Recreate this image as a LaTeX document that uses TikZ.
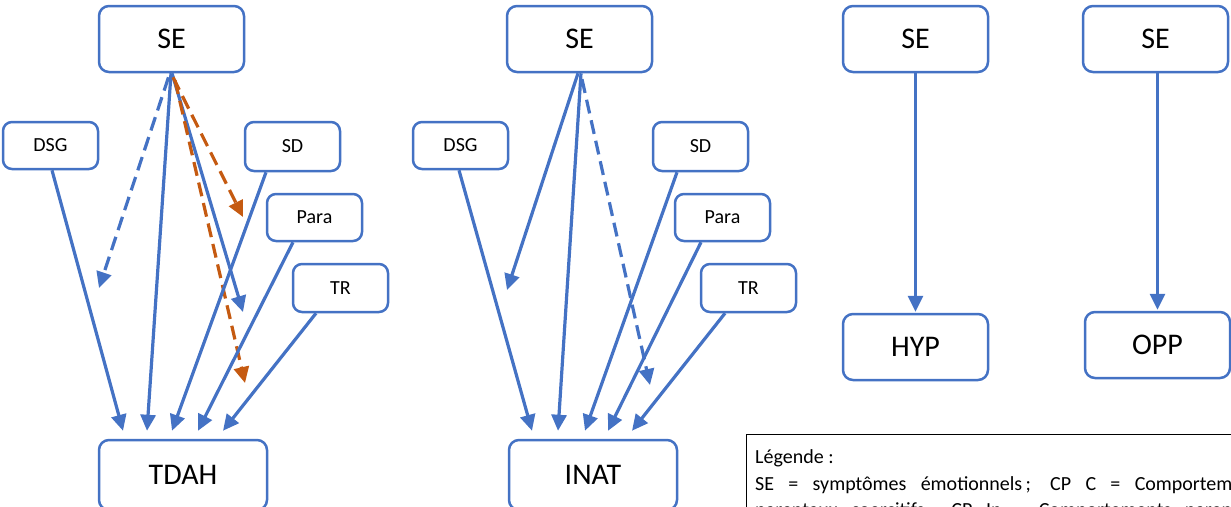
\documentclass[tikz,border=0pt]{standalone}
\usepackage{fontspec}
\setmainfont{Carlito}
\usetikzlibrary{arrows.meta,calc}
\definecolor{obl}{HTML}{4472C4}
\definecolor{oor}{HTML}{C55A11}
\tikzset{
 bigbox/.style={draw=obl, line width=2.5pt, rounded corners=10pt, minimum width=145pt, minimum height=66pt, inner sep=0pt, font=\fontsize{30}{36}\selectfont},
 smallbox/.style={draw=obl, line width=2.5pt, rounded corners=9pt, minimum width=95pt, minimum height=47pt, inner sep=0pt, font=\fontsize{20}{24}\selectfont},
 arr/.style={draw=obl, line width=3.2pt, -{Triangle[length=16pt,width=15pt]}},
 darr/.style={arr, dash pattern=on 14pt off 7pt},
 oarr/.style={arr, draw=oor, dash pattern=on 14pt off 7pt},
 legtext/.style={anchor=base west, inner sep=0pt, font=\fontsize{20}{26}\selectfont}
}
\begin{document}
\begin{tikzpicture}[x=1pt,y=-1pt]
\useasboundingbox (0,0) rectangle (1231,506);
\clip (0,0) rectangle (1231,506);
% left panel
\node[bigbox] (SE1) at (171.5,39) {SE};
\node[smallbox] (DSG1) at (50.5,145.5) {DSG};
\node[smallbox, minimum height=49pt] (SD1) at (292.5,146.5) {SD};
\node[smallbox] (Para1) at (314.5,217.5) {Para};
\node[smallbox, minimum height=48pt] (TR1) at (340.5,288) {TR};
\node[bigbox, minimum width=168pt, minimum height=70pt] (TDAH) at (183,475) {TDAH};
\coordinate (c1) at (243,312);
\coordinate (c2) at (99,288);
\coordinate (c3) at (243,217);
\coordinate (c4) at (245,383);
\draw[arr] ([xshift=1.5pt]DSG1.south) -- ([xshift=-60pt,yshift=8pt]TDAH.north);
\draw[arr] ([xshift=-0.5pt]SE1.south) -- ([xshift=-36pt,yshift=8pt]TDAH.north);
\draw[arr] ([xshift=0.5pt]SE1.south) -- (c1);
\draw[darr] ([xshift=-3pt,yshift=-4pt]SE1.south) -- (c2);
\draw[oarr] ([xshift=1.5pt,yshift=-4pt]SE1.south) -- (c3);
\draw[oarr] ([xshift=3.5pt,yshift=-7pt]SE1.south) -- (c4);
\draw[arr] ([xshift=-26.5pt]SD1.south) -- ([xshift=-11pt,yshift=8pt]TDAH.north);
\draw[arr] ([xshift=-21.5pt]Para1.south) -- ([xshift=15pt,yshift=8pt]TDAH.north);
\draw[arr] ([xshift=-24.5pt]TR1.south) -- ([xshift=40pt,yshift=8pt]TDAH.north);
% middle panel
\node[bigbox] (SE2) at (579.5,39) {SE};
\node[smallbox] (DSG2) at (460.5,145.5) {DSG};
\node[smallbox, minimum height=49pt] (SD2) at (700.5,146.5) {SD};
\node[smallbox] (Para2) at (722.5,217.5) {Para};
\node[smallbox, minimum height=48pt] (TR2) at (748.5,288) {TR};
\node[bigbox, minimum width=168pt, minimum height=70pt] (INAT) at (593,475) {INAT};
\coordinate (c5) at (507,290);
\coordinate (c6) at (650,385);
\draw[arr] ([xshift=-1.5pt]DSG2.south) -- ([xshift=-61pt,yshift=8pt]INAT.north);
\draw[arr] ([xshift=-1.5pt]SE2.south) -- (c5);
\draw[arr] ([xshift=1.5pt]SE2.south) -- ([xshift=-35pt,yshift=8pt]INAT.north);
\draw[darr] ([xshift=2.5pt,yshift=-6pt]SE2.south) -- (c6);
\draw[arr] ([xshift=-23.5pt]SD2.south) -- ([xshift=-8pt,yshift=8pt]INAT.north);
\draw[arr] ([xshift=-21.5pt]Para2.south) -- ([xshift=15pt,yshift=8pt]INAT.north);
\draw[arr] ([xshift=-23.5pt]TR2.south) -- ([xshift=39pt,yshift=8pt]INAT.north);
% right panels
\node[bigbox] (SE3) at (915.5,39) {SE};
\node[bigbox] (HYP) at (915.5,347) {HYP};
\node[bigbox] (SE4) at (1155.5,39) {SE};
\node[bigbox] (OPP) at (1157.5,345) {OPP};
\draw[arr] (SE3.south) -- ([yshift=1pt]HYP.north);
\draw[arr] (OPP.north |- SE4.south) -- ([yshift=1pt]OPP.north);
% legend
\node[draw=black, line width=1pt, anchor=north west, minimum width=520pt, minimum height=100pt, inner sep=0pt] (leg) at (746,434) {};
\node[legtext] (l1) at (755,463) {Légende :};
\node[legtext] (l2) at (755,490) {\makebox[512pt][s]{SE = symptômes émotionnels\,; CP C = Comportements}};
\node[legtext] (l3) at (755,516) {\makebox[512pt][s]{parentaux coercitifs\,; CP In = Comportements parentaux}};
\end{tikzpicture}
\end{document}
